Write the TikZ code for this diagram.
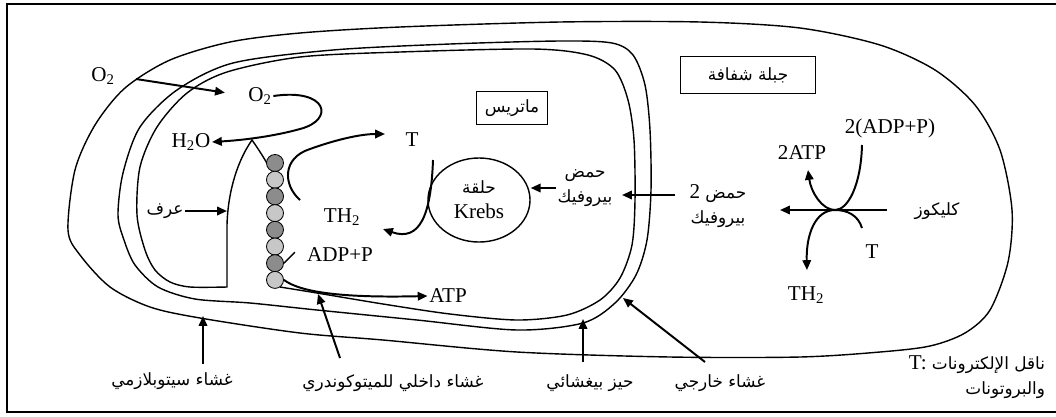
\documentclass[tikz,border=0pt]{standalone}
\usepackage{fontspec}
\setmainfont{Liberation Serif}
\newfontfamily\arabicfont[Script=Arabic]{DejaVu Sans}
\TeXXeTstate=1
\usetikzlibrary{arrows.meta,shapes.geometric}
\newcommand{\artext}[1]{{\arabicfont\fontsize{12}{18}\selectfont\beginR #1\endR}}
\colorlet{chaindark}{black!45}
\colorlet{chainlight}{black!22}
\begin{document}
\begin{tikzpicture}[
    x=0.025cm, y=-0.025cm,
    every node/.style={font=\fontsize{15}{18}\selectfont, inner sep=1pt},
    membrane/.style={line width=1pt},
    flow/.style={-{Triangle[length=7pt,width=6pt]}, line width=1.4pt},
    namebox/.style={draw, line width=1pt}
]
\useasboundingbox (0,0) rectangle (1056,416);
% cadre
\draw[line width=1.2pt] (1056,4) -- (7,4) -- (7,412) -- (1056,412);

% membrane cytoplasmique
\draw[membrane] plot[smooth cycle] coordinates {(68,230) (75,170) (95,125) (125,88) (170,60) (230,42)
    (300,33) (400,27) (560,22) (700,22) (800,28) (880,45) (935,70) (975,105) (1000,150) (1012,210)
    (1008,262) (990,310) (965,333) (930,346) (880,352) (800,357) (670,357) (517,352) (383,340)
    (300,333) (200,318) (150,307) (110,287) (80,255)};

% mitochondrie: membrane externe
\draw[membrane] plot[smooth cycle] coordinates {(118,215) (123,173) (140,127) (177,90) (233,63)
    (333,50) (450,44) (560,41) (612,43) (633,55) (645,85) (650,130) (651,190) (647,240) (636,275)
    (615,303) (583,323) (517,330) (417,320) (317,310) (250,303) (195,299) (158,287) (135,265)
    (124,240)};

% membrane interne et crete
\draw[membrane] plot[smooth] coordinates {(280,287) (317,293) (383,304) (450,314) (517,320)
    (567,315) (600,300) (620,278) (632,245) (635,200) (634,140) (628,100) (615,70) (588,55)
    (533,49) (400,52) (300,57) (227,72) (187,93) (157,127) (140,167) (137,215) (145,250)
    (155,270) (170,282) (190,287) (227,287)}
    -- (227,225) .. controls (228,190) and (238,160) .. (252,140)
    .. controls (259,150) and (264,158) .. (268,165);

% chaine respiratoire
\foreach \i/\shade in {0/chaindark,1/chainlight,2/chaindark,3/chainlight,
                       4/chaindark,5/chainlight,6/chaindark,7/chainlight}
    \node[circle, draw, line width=0.6pt, fill=\shade, minimum size=0.425cm, inner sep=0pt]
        (c\i) at (275,{163+16.7*\i}) {};

% O2 -> H2O
\node (o2a) at (103,76) {O\textsubscript{2}};
\node (o2b) at (260,96) {O\textsubscript{2}};
\node (h2o) at (191,142) {H\textsubscript{2}O};
\draw[flow, shorten <=0.5cm, shorten >=0.55cm] (o2a.east) -- (o2b.west);
\draw[flow] (o2b.east) .. controls (328,88) and (335,120) .. (300,129)
    .. controls (275,136) and (245,140) .. (h2o.east);

% crete
\node (cr) at (165,211) {\artext{عرف}};
\coordinate (crt) at (227,211);
\draw[flow] (cr.east) -- (crt);

% TH2 -> T
\node (t1) at (412,140) {T};
\node (th1) at (342,217) {TH\textsubscript{2}};
\coordinate (ts) at (300,200);
\coordinate (tt) at (385,134);
\draw[flow] (ts) .. controls (283,185) and (282,158) .. (310,149)
    .. controls (335,140) and (360,134) .. (tt);

% ADP+P -> ATP
\node (adp) at (340,255) {ADP+P};
\node (atp) at (448,296) {ATP};
\draw[membrane] (c6.east) -- ++(11,-11);
\draw[flow] (c7.east) .. controls (300,292) and (340,298) .. (atp.west);

% Krebs
\node[ellipse, draw, line width=1pt, minimum width=2.55cm, minimum height=2.1cm, inner sep=0pt,
    align=center] (krebs) at (479,200) {\artext{حلقة}\\Krebs};
\coordinate (ks) at (433,160);
\coordinate (kt) at (383,229);
\draw[flow] (ks) .. controls (431,215) and (420,242) .. (kt);

% acide pyruvique
\node[align=center] (pyr) at (585,188) {\artext{حمض}\\\artext{بيروفيك}};
\draw[flow] (pyr.west) -- (pyr.west -| krebs.east);
\node[align=center] (pyr2) at (718,206) {2 \artext{حمض}\\\artext{بيروفيك}};
\coordinate (pa) at (675,195);
\coordinate (pb) at (622,195);
\draw[flow] (pa) -- (pb);

% glycolyse
\node (glu) at (937,211) {\artext{كليكوز}};
\coordinate (ga) at (887,210);
\coordinate (gb) at (780,210);
\draw[flow] (ga) -- (gb);
\node (adp2) at (890,128) {2(ADP+P)};
\node (atp2) at (802,153) {2ATP};
\node (t2) at (872,252) {T};
\node (th2) at (806,295) {TH\textsubscript{2}};
\coordinate (ga1) at (862,145);
\coordinate (ga2) at (808,170);
\coordinate (gt1) at (862,228);
\coordinate (gt2) at (807,270);
\draw[flow] (ga1) .. controls (861,185) and (848,210) .. (835,210)
    .. controls (822,210) and (811,192) .. (ga2);
\draw[flow] (gt1) .. controls (858,215) and (847,210) .. (835,210)
    .. controls (815,210) and (806,235) .. (gt2);

% cadres
\node[namebox, minimum width=1.775cm, minimum height=0.825cm] (matrix) at (512,108) {\artext{ماتريس}};
\node[namebox, minimum width=3.375cm, minimum height=0.925cm] (hyalo) at (748,75) {\artext{جبلة شفافة}};

% legendes du bas
\node (cyto) at (172,381) {\artext{غشاء سيتوبلازمي}};
\node (inner) at (393,383) {\artext{غشاء داخلي للميتوكوندري}};
\node (inter) at (590,383) {\artext{حيز بيغشائي}};
\node (outer) at (720,383) {\artext{غشاء خارجي}};
\coordinate (cys) at (203,364);
\coordinate (cyt) at (203,316);
\coordinate (ins) at (340,358);
\coordinate (int) at (318,294);
\coordinate (ims) at (583,362);
\coordinate (imt) at (583,319);
\coordinate (oms) at (705,362);
\coordinate (omt) at (623,298);
\draw[flow] (cys) -- (cyt);
\draw[flow] (ins) -- (int);
\draw[flow] (ims) -- (imt);
\draw[flow] (oms) -- (omt);

\node[align=right] (key) at (977,377) {T: \artext{ناقل الإلكترونات}\\\artext{والبروتونات}};
\end{tikzpicture}
\end{document}
